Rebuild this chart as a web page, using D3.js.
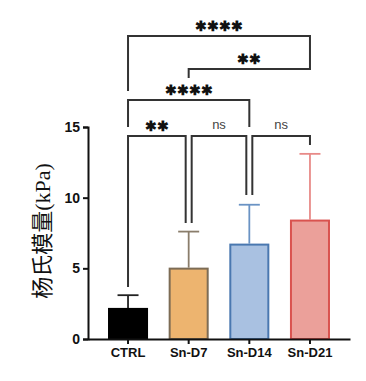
<!DOCTYPE html>
<html>
<head>
<meta charset="utf-8">
<script src="https://cdn.jsdelivr.net/npm/d3@7"></script>
<style>
body { margin: 0; background: #fff; }
.tick text { font-family: Arial, "Liberation Sans", sans-serif; font-weight: bold; }
</style>
</head>
<body>
<svg id="chart" width="366" height="381"></svg>
<script>
var groups = ["CTRL", "Sn-D7", "Sn-D14", "Sn-D21"];
var means = [2.2, 5.05, 6.75, 8.45];
var sds = [0.9, 2.55, 2.75, 4.65];
var fills = ["#000000", "#EDB46F", "#A9C1E1", "#EBA09A"];
var strokes = ["#000000", "#7d6c55", "#4a78b0", "#d9534f"];
var whiskers = ["#222222", "#8a7d6b", "#6a93c4", "#e88a88"];
var yTicks = [0, 5, 10, 15];

// comparisons: from, to, label, bracket height (px), leg ends (px)
var compA = ["CTRL", "Sn-D7", "Sn-D14", "CTRL", "Sn-D7", "CTRL"];
var compB = ["Sn-D7", "Sn-D14", "Sn-D21", "Sn-D14", "Sn-D21", "Sn-D21"];
var compLabel = ["**", "ns", "ns", "****", "**", "****"];
var compY = [136, 136, 136, 100, 69, 36];
var legA = [287, 223, 195, 127, 78, 91];
var legB = [223, 195, 145, 127, 60, 60];
var offA = [0, 3, 3, 0, 0, 0];
var offB = [-3, -3, 0, 0, 0, 0];

var svg = d3.select("#chart");

var xScale = d3.scaleBand()
    .domain(groups)
    .range([88, 350])
    .paddingInner(0.34)
    .paddingOuter(0.33);

var yScale = d3.scaleLinear()
    .domain([0, 15])
    .range([339, 127]);

var cx = function(g) { return xScale(g) + xScale.bandwidth() / 2; };

// error bars (upper only)
var err = svg.append("g");
groups.forEach(function(g, i) {
    err.append("line")
        .attr("x1", cx(g)).attr("x2", cx(g))
        .attr("y1", yScale(means[i])).attr("y2", yScale(means[i] + sds[i]))
        .attr("stroke", whiskers[i]).attr("stroke-width", 1.8);
    err.append("line")
        .attr("x1", cx(g) - 10.5).attr("x2", cx(g) + 10.5)
        .attr("y1", yScale(means[i] + sds[i])).attr("y2", yScale(means[i] + sds[i]))
        .attr("stroke", whiskers[i]).attr("stroke-width", 1.8);
});

svg.append("g")
    .selectAll("rect")
    .data(groups)
    .enter()
    .append("rect")
    .attr("x", function(d) { return xScale(d) + 1; })
    .attr("width", xScale.bandwidth() - 2)
    .attr("y", function(d, i) { return yScale(means[i]) + 1; })
    .attr("height", function(d, i) { return yScale(0) - yScale(means[i]) - 1; })
    .attr("fill", function(d, i) { return fills[i]; })
    .attr("stroke", function(d, i) { return strokes[i]; })
    .attr("stroke-width", 2);

// axes
var yAxis = d3.axisLeft(yScale).tickValues(yTicks).tickSize(5).tickPadding(3);
var yg = svg.append("g")
    .attr("transform", "translate(88,0)")
    .call(yAxis);
yg.select(".domain").attr("stroke-width", 2).attr("stroke", "#111");
yg.selectAll(".tick line").attr("stroke-width", 2).attr("stroke", "#111");
yg.selectAll(".tick text").attr("font-size", 14).attr("fill", "#111");

var xAxis = d3.axisBottom(xScale).tickSize(5).tickPadding(4).tickSizeOuter(0);
var xg = svg.append("g")
    .attr("transform", "translate(0,339)")
    .call(xAxis);
xg.select(".domain").attr("stroke-width", 2).attr("stroke", "#111");
xg.selectAll(".tick line").attr("stroke-width", 2).attr("stroke", "#111");
xg.selectAll(".tick text").attr("font-size", 13).attr("fill", "#111");

svg.append("text")
    .attr("transform", "translate(50,231) rotate(-90)")
    .attr("text-anchor", "middle")
    .attr("font-family", "'Liberation Serif', 'Noto Sans CJK SC', serif")
    .attr("font-size", 22)
    .attr("fill", "#111")
    .text("杨氏模量(kPa)");

// significance brackets
var br = svg.append("g");
compA.forEach(function(a, i) {
    var xa = cx(a) + offA[i];
    var xb = cx(compB[i]) + offB[i];
    br.append("path")
        .attr("d", "M" + xa + "," + legA[i] + "V" + compY[i] + "H" + xb + "V" + legB[i])
        .attr("fill", "none")
        .attr("stroke", "#333")
        .attr("stroke-width", 2);
    var isNs = compLabel[i] == "ns";
    br.append("text")
        .attr("x", (xa + xb) / 2)
        .attr("y", compY[i] - (isNs ? 7 : 5))
        .attr("text-anchor", "middle")
        .attr("font-family", "Arial, 'Liberation Sans', sans-serif")
        .attr("font-weight", isNs ? "normal" : "bold")
        .attr("font-size", isNs ? 13 : 13.5)
        .attr("fill", isNs ? "#444" : "#111")
        .text(isNs ? "ns" : compLabel[i].replace(/\*/g, "✱"));
});
</script>
</body>
</html>
